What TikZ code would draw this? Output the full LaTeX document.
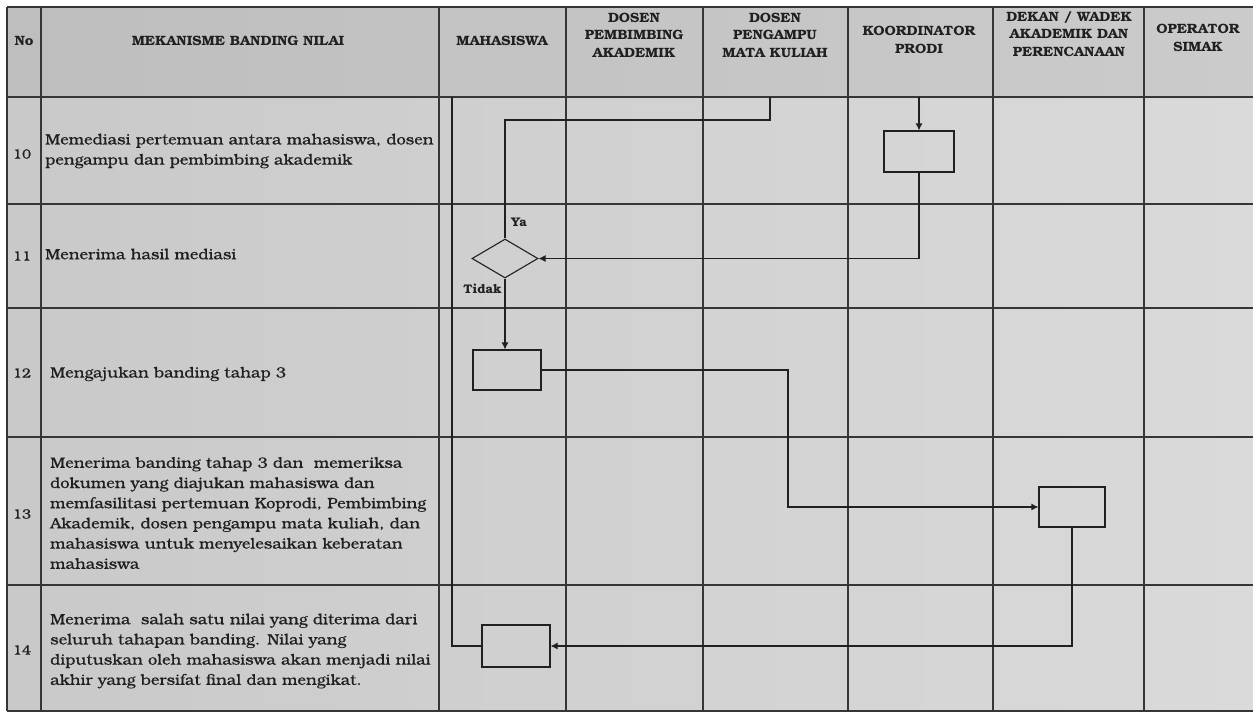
\documentclass[tikz,border=0pt]{standalone}
\usepackage{fontspec}
\setmainfont{texgyrebonum}[Extension=.otf,UprightFont=*-regular,BoldFont=*-bold,ItalicFont=*-italic,BoldItalicFont=*-bolditalic]
\newfontfamily\bodyfont{texgyrebonum}[Extension=.otf,UprightFont=*-regular,FakeStretch=1.09,FakeBold=0.5]
\newfontfamily\hdrfont{texgyrebonum}[Extension=.otf,UprightFont=*-bold,FakeStretch=1.04]
\usetikzlibrary{shapes.geometric,arrows.meta,calc}
\definecolor{ink}{HTML}{202020}
\definecolor{paperL}{HTML}{C9C9C9}
\definecolor{paperR}{HTML}{DADADA}
\definecolor{headL}{HTML}{BEBEBE}
\definecolor{headR}{HTML}{CBCBCB}
\tikzset{
  grid/.style={draw=ink!90, line width=1.6pt},
  flow/.style={draw=ink, line width=1.1pt},
  arr/.style={flow, -{Latex[length=7pt,width=7pt]}},
  procbox/.style={draw=ink, line width=1.1pt, rectangle, inner sep=0pt},
  decide/.style={draw=ink, line width=1.1pt, diamond, inner sep=0pt},
  hdr/.style={font=\hdrfont\fontsize{13.5}{17.5}\selectfont, text=ink, align=center, inner sep=0pt},
  rowtext/.style={font=\bodyfont\fontsize{15}{20.2}\selectfont, text=ink, align=left, inner sep=0pt, anchor=west},
  num/.style={font=\bodyfont\fontsize{13.5}{14}\selectfont, text=ink, inner sep=0pt},
  lbl/.style={font=\hdrfont\fontsize{12.5}{14}\selectfont, text=ink, inner sep=0pt}
}
\begin{document}
\begin{tikzpicture}[x=1pt,y=-1pt]
\useasboundingbox (0,0) rectangle (1253,715);
\fill[white] (0,0) rectangle (1253,715);
\fill[left color=paperL, right color=paperR] (7,97) rectangle (1253,711);
\fill[left color=headL, right color=headR] (7,7) rectangle (1253,97);
% grid rows
\foreach \y in {7,97,204,308,437,585,711}{\draw[grid] (7,\y) -- (1253,\y);}
% grid columns
\foreach \x in {7,41,439,566,703,848,993,1144}{\draw[grid] (\x,7) -- (\x,711);}
% header
\node[hdr] (hno) at (24,41) {No};
\node[hdr] (hmek) at (238,41) {MEKANISME BANDING NILAI};
\node[hdr] (hmhs) at (502,41) {MAHASISWA};
\node[hdr] (hpa) at (634,35) {DOSEN\\PEMBIMBING\\AKADEMIK};
\node[hdr] (hmk) at (775,35) {DOSEN\\PENGAMPU\\MATA KULIAH};
\node[hdr] (hkp) at (919,40) {KOORDINATOR\\PRODI};
\node[hdr] (hdk) at (1069,34) {DEKAN / WADEK\\AKADEMIK DAN\\PERENCANAAN};
\node[hdr] (hop) at (1198,38) {OPERATOR\\SIMAK};
% row numbers
\node[num] (n10) at (22,154) {10};
\node[num] (n11) at (22,256) {11};
\node[num] (n12) at (22,373) {12};
\node[num] (n13) at (22,514) {13};
\node[num] (n14) at (22,650) {14};
% row texts
\node[rowtext] (t10) at (45,151) {Memediasi pertemuan antara mahasiswa, dosen\\pengampu dan pembimbing akademik};
\node[rowtext] (t11) at (45,254) {Menerima hasil mediasi};
\node[rowtext] (t12) at (50,374) {Mengajukan banding tahap 3};
\node[rowtext] (t13) at (50,513) {Menerima banding tahap 3 dan~ memeriksa\\dokumen yang diajukan mahasiswa dan\\memfasilitasi pertemuan Koprodi, Pembimbing\\Akademik, dosen pengampu mata kuliah, dan\\mahasiswa untuk menyelesaikan keberatan\\mahasiswa};
\node[rowtext] (t14) at (50,651) {Menerima~ salah satu nilai yang diterima dari\\seluruh tahapan banding. Nilai yang\\diputuskan oleh mahasiswa akan menjadi nilai\\akhir yang bersifat final dan mengikat.};
% flow shapes
\node[procbox, minimum width=70pt, minimum height=41pt] (b10) at (919,151.5) {};
\node[decide, minimum width=66pt, minimum height=39pt] (dia) at (505,258.5) {};
\node[procbox, minimum width=68pt, minimum height=40pt] (b12) at (507,370) {};
\node[procbox, minimum width=66pt, minimum height=40pt] (b13) at (1072,507) {};
\node[procbox, minimum width=68pt, minimum height=42pt] (b14) at (516,646) {};
% labels
\node[lbl, anchor=west] (lya) at (511,222) {Ya};
\node[lbl, anchor=east] (ltd) at (502,289) {Tidak};
% coordinates for free ends
\coordinate (inKp) at (919,97);
\coordinate (inMk) at (770,97);
\coordinate (turnMk) at (770,120);
\coordinate (inLeft) at (452,97);
\coordinate (mid1213) at (788,437);
% connectors
\draw[arr] (inKp) -- (b10.north);
\draw[arr] (b10.south) |- (dia.east);
\draw[flow] (dia.north) |- (turnMk) -- (inMk);
\draw[arr] (dia.south) -- (b12.north -| dia.south);
\draw[arr] (b12.east) -| (mid1213) |- (b13.west);
\draw[arr] (b13.south) |- (b14.east);
\draw[flow] (inLeft) |- (b14.west);
\end{tikzpicture}
\end{document}
